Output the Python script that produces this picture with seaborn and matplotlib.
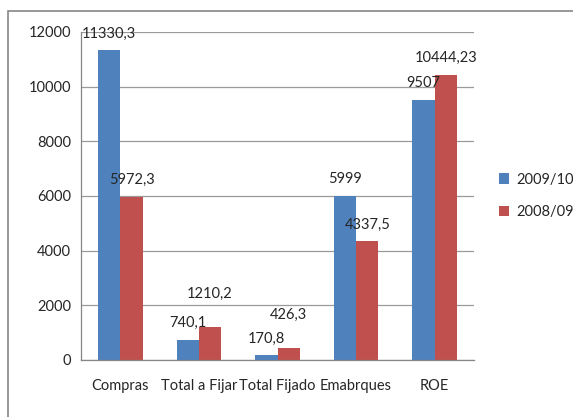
import matplotlib
matplotlib.use("Agg")
import matplotlib.pyplot as plt
from matplotlib.patches import Rectangle
from matplotlib.ticker import FixedLocator
import pandas as pd
import seaborn as sns

categories = ["Compras", "Total a Fijar", "Total Fijado", "Emabrques", "ROE"]
series_names = ["2009/10", "2008/09"]
values_2009_10 = [11330.3, 740.1, 170.8, 5999, 9507]
values_2008_09 = [5972.3, 1210.2, 426.3, 4337.5, 10444.23]
y_ticks = [0, 2000, 4000, 6000, 8000, 10000, 12000]

df = pd.DataFrame({
    "categoria": categories * 2,
    "serie": [series_names[0]] * 5 + [series_names[1]] * 5,
    "valor": values_2009_10 + values_2008_09,
})

sns.set_style("white")
plt.rcParams["font.family"] = ["Lato", "DejaVu Sans"]

fig = plt.figure(figsize=(5.73, 4.17), dpi=100)
ax = fig.add_axes([0.1414, 0.1367, 0.6858, 0.7866])

sns.barplot(data=df, x="categoria", y="valor", hue="serie", order=categories,
            hue_order=series_names, palette=["#4F81BD", "#C0504D"],
            width=0.57, saturation=1, linewidth=0, ax=ax, errorbar=None)

ax.set_ylim(0, 12000)
ax.set_xlim(-0.5, len(categories) - 0.5)
ax.set_yticks(y_ticks)
ax.set_xlabel("")
ax.set_ylabel("")
ax.yaxis.grid(True, color="#9a9a9a", linewidth=0.9)
ax.set_axisbelow(True)
for s in ["top", "right"]:
    ax.spines[s].set_visible(False)
for s in ["left", "bottom"]:
    ax.spines[s].set_color("#868686")
    ax.spines[s].set_linewidth(0.9)

ax.tick_params(axis="y", length=4, color="#868686", labelsize=10.5, pad=3)
ax.tick_params(axis="x", which="major", length=0, labelsize=10.5, pad=14)
ax.xaxis.set_minor_locator(FixedLocator([i - 0.5 for i in range(len(categories) + 1)]))
ax.tick_params(axis="x", which="minor", length=6, color="#868686")

# data labels, Excel style (a couple nudged higher to avoid overlap)
extra = {(1, 1): 12, (2, 1): 12}
for j, cont in enumerate(ax.containers):
    for i, bar in enumerate(cont):
        v = bar.get_height()
        txt = "{:.10g}".format(v).replace(".", ",")
        ax.annotate(txt, (bar.get_x() + bar.get_width() / 2, v),
                    xytext=(0, 12 + extra.get((i, j), 0)), textcoords="offset points",
                    ha="center", va="center", fontsize=10.5, annotation_clip=False)

leg = ax.legend(loc="center left", bbox_to_anchor=(1.03, 0.5), frameon=False,
                fontsize=10.5, handlelength=0.7, handleheight=0.7,
                handletextpad=0.5, labelspacing=1.3)

# outer chart frame
fig.patches.append(Rectangle((8 / 573, -0.1), 1.2, 1 - 11 / 417 + 0.1,
                             transform=fig.transFigure, fill=False,
                             edgecolor="#868686", linewidth=1.2))

fig.savefig("out.png", dpi=100)
